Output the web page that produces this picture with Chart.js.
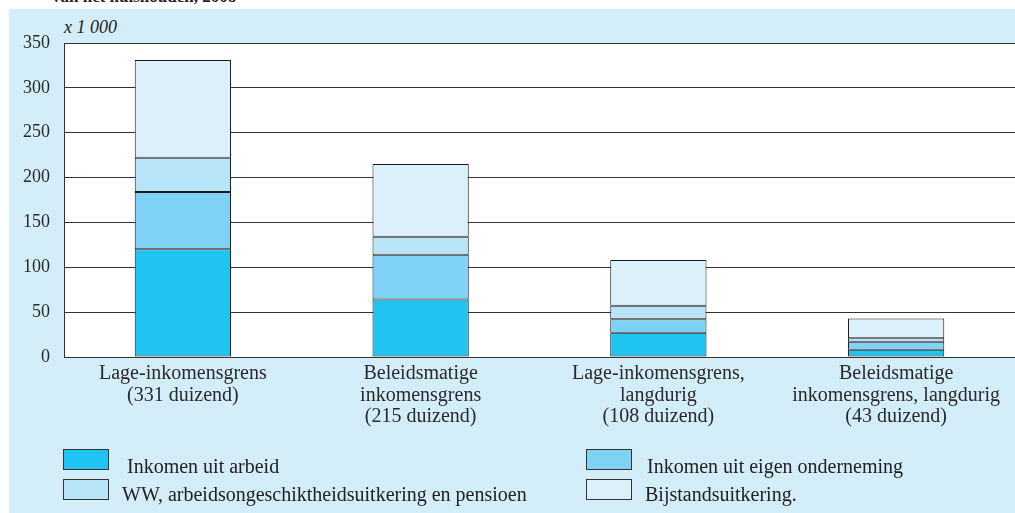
<!DOCTYPE html>
<html>
<head>
<meta charset="utf-8">
<script src="https://cdn.jsdelivr.net/npm/chart.js@4/dist/chart.umd.min.js"></script>
<style>
  html, body { margin: 0; padding: 0; background: #fff; overflow: hidden; }
  #page { position: relative; width: 1015px; height: 513px; overflow: hidden; font-family: 'Liberation Serif', serif; color: #222; }
  #panel { position: absolute; left: 9px; top: 9px; right: 0; bottom: 0; background: #d3edf9; }
  #title { position: absolute; left: 52px; top: -13px; font-weight: bold; font-size: 17px; line-height: 20px; white-space: nowrap; }
  #unit { position: absolute; left: 64px; top: 17px; font-style: italic; font-size: 18px; line-height: 20px; }
  #chart { position: absolute; left: 0; top: 0; }
  .lg-box { position: absolute; width: 46px; height: 21px; border: 1px solid #333; box-sizing: border-box; }
  .lg-text { position: absolute; font-size: 20px; line-height: 22px; white-space: nowrap; }
</style>
</head>
<body>
<div id="page">
  <div id="panel"></div>
  <div id="title">van het huishouden, 2008</div>
  <div id="unit">x 1 000</div>
  <canvas id="chart" width="1015" height="513"></canvas>
  <div id="legend"></div>
</div>
<script>
const categories = [
  ['Lage-inkomensgrens', '(331 duizend)'],
  ['Beleidsmatige', 'inkomensgrens', '(215 duizend)'],
  ['Lage-inkomensgrens,', 'langdurig', '(108 duizend)'],
  ['Beleidsmatige', 'inkomensgrens, langdurig', '(43 duizend)'],
];
const arbeid = [120, 64, 27, 8];
const eigenOnderneming = [64, 50, 15, 9];
const wwPensioen = [38, 20, 15, 4];
const bijstand = [109, 81, 51, 22];

const seriesNames = [
  'Inkomen uit arbeid',
  'Inkomen uit eigen onderneming',
  'WW, arbeidsongeschiktheidsuitkering en pensioen',
  'Bijstandsuitkering.',
];
const seriesColors = ['#1fc4f2', '#7fd2f5', '#b8e4f8', '#dbf0fb'];
const seriesData = [arbeid, eigenOnderneming, wwPensioen, bijstand];

// white plot area on the blue panel, running out to the right edge
const plotBackground = {
  id: 'plotBackground',
  beforeDraw(chart) {
    const { ctx, chartArea } = chart;
    ctx.save();
    ctx.fillStyle = '#ffffff';
    ctx.fillRect(chartArea.left, chartArea.top, chart.width - chartArea.left, chartArea.bottom - chartArea.top);
    ctx.restore();
  },
};

const serif = 'Liberation Serif';

new Chart(document.getElementById('chart'), {
  type: 'bar',
  data: {
    labels: categories,
    datasets: seriesNames.map((name, i) => ({
      label: name,
      data: seriesData[i],
      backgroundColor: seriesColors[i],
      borderColor: '#1a1a1a',
      borderWidth: 1,
      borderSkipped: false,
      barPercentage: 0.405,
      categoryPercentage: 1,
    })),
  },
  options: {
    responsive: false,
    animation: false,
    devicePixelRatio: 1,
    layout: { padding: { top: 43, bottom: 76, left: 0, right: 0 } },
    plugins: {
      legend: { display: false },
      tooltip: { enabled: false },
    },
    scales: {
      x: {
        stacked: true,
        grid: { display: false, drawTicks: false },
        border: { display: false },
        ticks: {
          autoSkip: false,
          maxRotation: 0,
          padding: 6,
          color: '#2a2a2a',
          font: { family: serif, size: 20, lineHeight: 1.08 },
        },
        afterFit: (s) => { s.height = 80; },
      },
      y: {
        stacked: true,
        min: 0,
        max: 350,
        grid: { color: '#333', lineWidth: 1, drawTicks: false },
        border: { display: true, color: '#333', width: 1 },
        ticks: {
          stepSize: 50,
          padding: 14,
          color: '#2a2a2a',
          font: { family: serif, size: 18 },
        },
        afterFit: (s) => { s.width = 64; },
      },
    },
  },
  plugins: [plotBackground],
});

// legend in two columns
const legendPos = [
  { bx: 63, by: 449, tx: 127, ty: 455 },
  { bx: 586, by: 449, tx: 647, ty: 455 },
  { bx: 63, by: 479, tx: 122, ty: 483 },
  { bx: 586, by: 479, tx: 645, ty: 483 },
];
const legend = document.getElementById('legend');
seriesNames.forEach((name, i) => {
  const p = legendPos[i];
  const box = document.createElement('div');
  box.className = 'lg-box';
  box.style.left = p.bx + 'px';
  box.style.top = p.by + 'px';
  box.style.background = seriesColors[i];
  legend.appendChild(box);
  const t = document.createElement('div');
  t.className = 'lg-text';
  t.style.left = p.tx + 'px';
  t.style.top = p.ty + 'px';
  t.textContent = name;
  legend.appendChild(t);
});
</script>
</body>
</html>
